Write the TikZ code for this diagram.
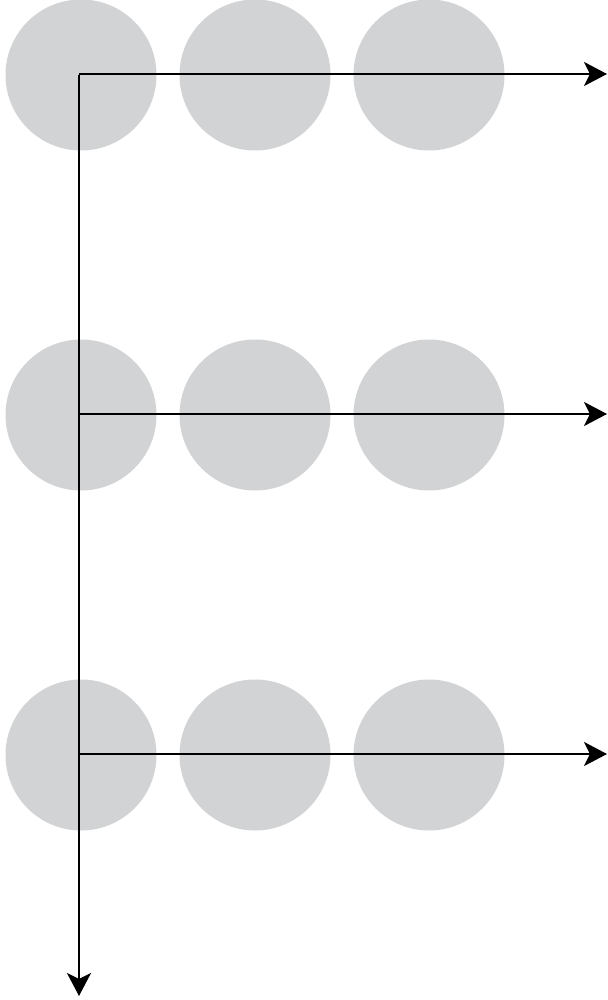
\documentclass[tikz,border=0pt]{standalone}
\usetikzlibrary{arrows.meta}
\definecolor{dotgray}{RGB}{209,211,212}
\begin{document}
\begin{tikzpicture}[x=1pt,y=-1pt,
  dot/.style={circle,fill=dotgray,draw=none,minimum size=151pt,inner sep=0pt},
  axis/.style={line width=2.8pt,-{Stealth[length=23pt,width=24pt,inset=6pt]}}]
\useasboundingbox (0,0) rectangle (607,1000);
\foreach \r/\y in {1/75,2/415,3/755}{
  \node[dot] (c\r a) at (81,\y) {};
  \node[dot] (c\r b) at (255,\y) {};
  \node[dot] (c\r c) at (429,\y) {};
}
\coordinate (o1) at (79,74);
\coordinate (o2) at (79,414);
\coordinate (o3) at (79,754);
\coordinate (e1) at (607,74);
\coordinate (e2) at (607,414);
\coordinate (e3) at (607,754);
\coordinate (ev) at (79,996);
\draw[axis] (o1) -- (e1);
\draw[axis] (o2) -- (e2);
\draw[axis] (o3) -- (e3);
\draw[axis] ([yshift=-1.4pt]o1) -- (ev);
\end{tikzpicture}
\end{document}
